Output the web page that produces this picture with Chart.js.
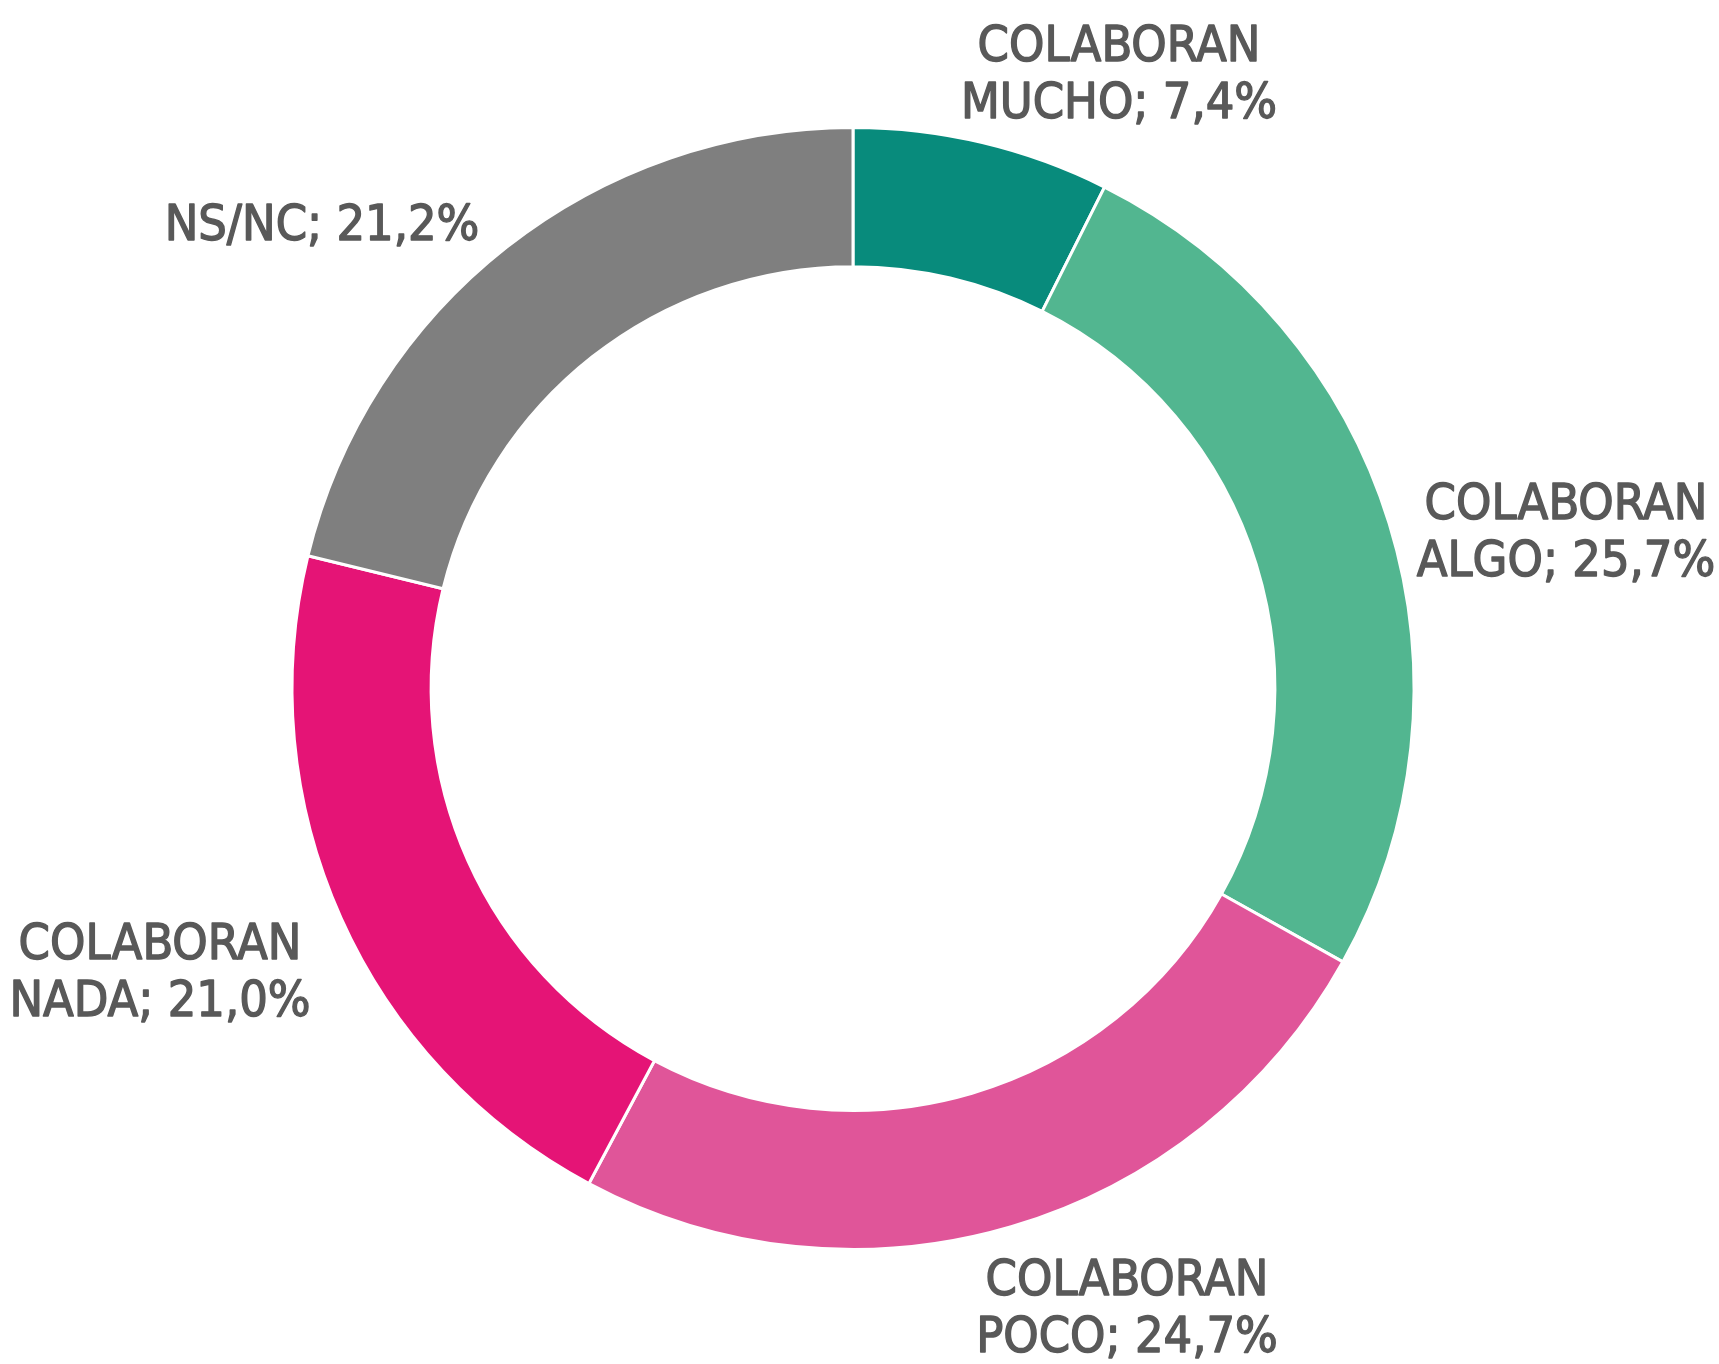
<!DOCTYPE html>
<html>
<head>
<meta charset="utf-8">
<script src="https://cdn.jsdelivr.net/npm/chart.js@4/dist/chart.umd.min.js"></script>
<style>
  html, body { margin: 0; padding: 0; background: #ffffff; }
  #wrap { width: 1719px; height: 1364px; }
</style>
</head>
<body>
<div id="wrap"><canvas id="myChart" width="1719" height="1364"></canvas></div>
<script>
const categories = ['COLABORAN MUCHO', 'COLABORAN ALGO', 'COLABORAN POCO', 'COLABORAN NADA', 'NS/NC'];
const values = [7.4, 25.7, 24.7, 21.0, 21.2];
const colors = ['#088b7c', '#52b690', '#e05599', '#e51476', '#7f7f7f'];

// where each label block sits, relative to the ring centre
const labelOffsets = [
    [266, -612],
    [713, -154],
    [274, 622],
    [-693, 286],
    [-531, -461],
];

function formatValue(v) {
    return v.toFixed(1).replace('.', ',') + '%';
}

const sliceLabels = {
    id: 'sliceLabels',
    afterDatasetsDraw(chart) {
        const ctx = chart.ctx;
        const arcs = chart.getDatasetMeta(0).data;
        const lineHeight = 57;
        ctx.save();
        ctx.font = '50px "DejaVu Sans Condensed", "DejaVu Sans", sans-serif';
        ctx.fillStyle = '#595959';
        ctx.strokeStyle = '#595959';
        ctx.lineWidth = 1.4;
        ctx.lineJoin = 'round';
        ctx.textAlign = 'center';
        ctx.textBaseline = 'middle';
        arcs.forEach((arc, i) => {
            const words = chart.data.labels[i].split(' ');
            const value = formatValue(chart.data.datasets[0].data[i]);
            const lines = words.length > 1
                ? [words.slice(0, -1).join(' '), words[words.length - 1] + '; ' + value]
                : [words[0] + '; ' + value];
            const cx = arc.x + labelOffsets[i][0];
            const cy = arc.y + labelOffsets[i][1];
            const top = cy - (lines.length - 1) * lineHeight / 2;
            lines.forEach((line, k) => {
                ctx.fillText(line, cx, top + k * lineHeight);
                ctx.strokeText(line, cx, top + k * lineHeight);
            });
        });
        ctx.restore();
    }
};

const ctx = document.getElementById('myChart').getContext('2d');
new Chart(ctx, {
    type: 'doughnut',
    data: {
        labels: categories,
        datasets: [{
            data: values,
            backgroundColor: colors,
            borderColor: '#ffffff',
            borderWidth: 3,
        }],
    },
    options: {
        responsive: false,
        animation: false,
        radius: 561,
        cutout: '75.2%',
        layout: { padding: { left: 0, right: 13, top: 13, bottom: 0 } },
        plugins: {
            legend: { display: false },
            tooltip: { enabled: false },
        },
    },
    plugins: [sliceLabels],
});
</script>
</body>
</html>
